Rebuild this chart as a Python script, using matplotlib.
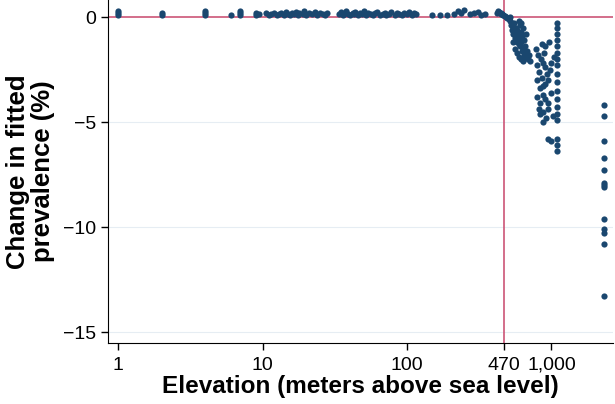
import matplotlib.pyplot as plt
from matplotlib.ticker import FixedLocator, NullLocator

# elevation (m) and change in fitted prevalence (%)
low_elev = [1, 1, 1, 2, 2, 4, 4, 4, 6, 7, 7, 7, 9, 9, 9.5, 10.5, 11, 11.5, 12,
            12.5, 13, 13.5, 14, 14.5, 15, 15.5, 16, 16.5, 17, 17.5, 18, 19,
            19.5, 20, 21, 22, 23, 24, 25, 26, 27, 28, 34, 35, 36, 37, 38, 39,
            40, 42, 43, 44, 46, 47, 49, 50, 52, 54, 56, 58, 60, 62, 65, 68,
            70, 72, 75, 78, 82, 85, 88, 92, 96, 100, 104, 108, 112, 116, 150,
            170, 190, 210, 225, 235, 250, 275, 290, 310, 325, 345, 420, 445,
            460]
low_change = [0.1, 0.2, 0.3, 0.1, 0.2, 0.1, 0.2, 0.3, 0.1, 0.1, 0.2, 0.3, 0.1,
              0.2, 0.15, 0.2, 0.1, 0.15, 0.2, 0.1, 0.15, 0.2, 0.1, 0.25, 0.15,
              0.1, 0.2, 0.15, 0.25, 0.1, 0.2, 0.15, 0.3, 0.1, 0.2, 0.15, 0.25,
              0.1, 0.2, 0.15, 0.1, 0.2, 0.15, 0.25, 0.1, 0.2, 0.3, 0.15, 0.1,
              0.2, 0.15, 0.25, 0.1, 0.2, 0.15, 0.3, 0.1, 0.2, 0.15, 0.1, 0.2,
              0.25, 0.1, 0.15, 0.2, 0.1, 0.15, 0.25, 0.1, 0.2, 0.15, 0.1, 0.2,
              0.15, 0.25, 0.1, 0.2, 0.15, 0.1, 0.1, 0.1, 0.15, 0.3, 0.2, 0.35,
              0.15, 0.2, 0.25, 0.1, 0.15, 0.2, 0.15, 0.1]

mid_elev = [425, 435, 445, 455, 465, 475, 485, 495, 505, 515, 520, 525, 530,
            535, 540, 545, 550, 555, 560, 565, 570, 575, 580, 585, 590, 595,
            600, 605, 610, 615, 620, 625, 630, 640, 645, 650, 660, 665, 670,
            680, 690, 700, 710, 560, 540, 580, 600, 620, 640, 600, 620, 635]
mid_change = [0.3, 0.25, 0.2, 0.15, 0.1, 0.05, 0.0, -0.05, -0.1, 0.0, -0.2,
              -0.4, -0.3, -0.6, -0.5, -0.8, -0.3, -0.7, -1.0, -0.5, -0.9, -1.2,
              -0.6, -1.1, -0.8, -1.3, -1.0, -0.4, -1.4, -0.7, -1.2, -1.6, -0.9,
              -1.5, -1.1, -1.8, -1.4, -0.8, -1.9, -1.6, -2.0, -1.8, -2.1, -1.5,
              -1.2, -1.7, -1.9, -2.0, -2.1, -0.2, -0.3, -0.5]

high_elev = [780, 790, 800, 810, 820, 830, 840, 850, 860, 870, 880, 890, 900,
             910, 920, 930, 860, 900, 880, 940, 990, 960, 980, 1000, 1020,
             1040, 950, 800, 830, 870, 910, 950, 990, 820, 880, 940]
high_change = [-1.5, -2.3, -3.0, -1.8, -2.6, -3.4, -4.1, -2.0, -2.9, -3.7,
               -4.5, -1.7, -2.4, -3.2, -4.8, -2.7, -1.3, -3.9, -5.0, -5.8,
               -5.9, -1.2, -2.5, -3.6, -4.7, -1.9, -4.4, -3.8, -4.6, -2.2,
               -1.4, -3.0, -2.2, -4.4, -3.3, -4.1]

col_elev = [1090] * 18
col_change = [-0.3, -0.5, -0.8, -1.1, -1.4, -1.7, -2.0, -2.3, -2.7, -3.1, -3.5,
              -3.9, -4.3, -4.6, -4.9, -5.8, -6.1, -6.4]

top_elev = [2300] * 13
top_change = [-4.2, -4.7, -5.9, -6.7, -7.3, -7.9, -8.0, -8.1, -9.6, -10.1,
              -10.3, -10.8, -13.3]

elevation = low_elev + mid_elev + high_elev + col_elev + top_elev
change = low_change + mid_change + high_change + col_change + top_change

x_ticks = [1, 10, 100, 470, 1000]
x_labels = ["1", "10", "100", "470", "1,000"]
y_ticks = [0, -5, -10, -15]
y_labels = ["0", "\u22125", "\u221210", "\u221215"]

plt.rcParams['font.family'] = ['Liberation Sans', 'DejaVu Sans']

fig = plt.figure(figsize=(6.15, 4.04), dpi=100)
ax = fig.add_axes([0.1756, 0.151, 0.8211, 0.849])

for y in [-5, -10, -15]:
    ax.axhline(y, color="#e6edf3", linewidth=0.8, zorder=0)

ax.axhline(0, color="#cc5577", linewidth=1.2, zorder=1)
ax.axvline(470, color="#cc5577", linewidth=1.2, zorder=1)

ax.scatter(elevation, change, s=20, color="#1a476f", linewidths=0, zorder=2)

ax.set_xscale("log")
ax.set_xlim(0.85, 2670)
ax.set_ylim(-15.52, 0.81)

ax.xaxis.set_major_locator(FixedLocator(x_ticks))
ax.xaxis.set_minor_locator(NullLocator())
ax.set_xticklabels(x_labels)
ax.set_yticks(y_ticks)
ax.set_yticklabels(y_labels)
ax.tick_params(labelsize=14, length=5, width=1, color="black")
ax.tick_params(axis="x", pad=5)

ax.spines["top"].set_visible(False)
ax.spines["right"].set_visible(False)

ax.set_xlabel("Elevation (meters above sea level)", fontsize=17.5,
              fontweight="bold", labelpad=1)
ax.set_ylabel("Change in fitted\nprevalence (%)", fontsize=18.5,
              fontweight="bold", labelpad=6, linespacing=1.05)

plt.savefig("out.png", dpi=100)
